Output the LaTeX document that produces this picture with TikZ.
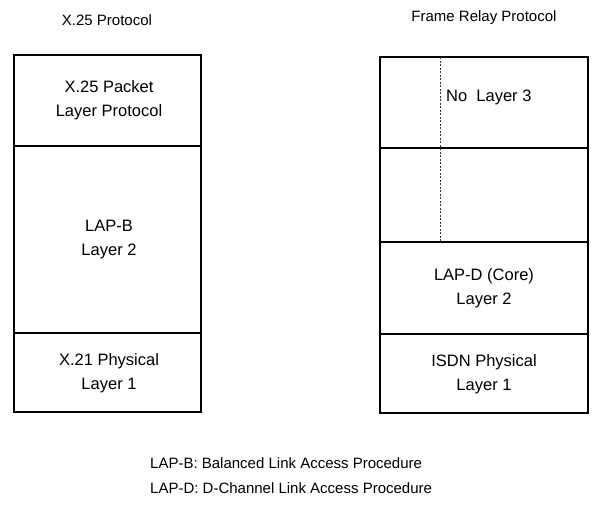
\documentclass[tikz,border=0pt]{standalone}
\usepackage{fontspec}
\setmainfont{Liberation Sans}
\begin{document}
\begin{tikzpicture}[x=1pt,y=-1pt,
  frame/.style={draw=black,line width=1.6pt},
  sep/.style={draw=black,line width=1.5pt},
  lbl/.style={font=\fontsize{15}{22}\selectfont,align=center,inner sep=0pt},
  boxlbl/.style={font=\fontsize{16.5}{24}\selectfont,align=center,inner sep=0pt},
  vdash/.style={draw=black!80,line width=0.8pt,dash pattern=on 2pt off 1.5pt}]
\useasboundingbox (0,0) rectangle (599,506);
% titles
\node[lbl] (t1) at (107,20) {X.25 Protocol};
\node[lbl] (t2) at (484,18) {Frame Relay Protocol};
% left stack
\draw[frame] (14,55) rectangle (201,412);
\draw[sep] (14,146) -- (201,146);
\draw[sep] (14,333) -- (201,333);
\node[boxlbl] (x25) at (109,100) {X.25 Packet\\Layer Protocol};
\node[boxlbl] (lapb) at (109,240) {LAP-B\\Layer 2};
\node[boxlbl] (x21) at (109,373) {X.21 Physical\\Layer 1};
% right stack
\draw[frame] (380,57) rectangle (588,413);
\draw[sep] (380,148) -- (588,148);
\draw[sep] (380,242) -- (588,242);
\draw[sep] (380,334) -- (588,334);
\draw[vdash] (440,57) -- (440,242);
\node[boxlbl,anchor=west] (nol3) at (446,97) {No\ \ Layer 3};
\node[boxlbl] (lapd) at (484,288) {LAP-D (Core)\\Layer 2};
\node[boxlbl] (isdn) at (484,374) {ISDN Physical\\Layer 1};
% legend
\node[lbl,anchor=west] (leg1) at (150,463) {LAP-B: Balanced Link Access Procedure};
\node[lbl,anchor=west] (leg2) at (150,488) {LAP-D: D-Channel Link Access Procedure};
\end{tikzpicture}
\end{document}
